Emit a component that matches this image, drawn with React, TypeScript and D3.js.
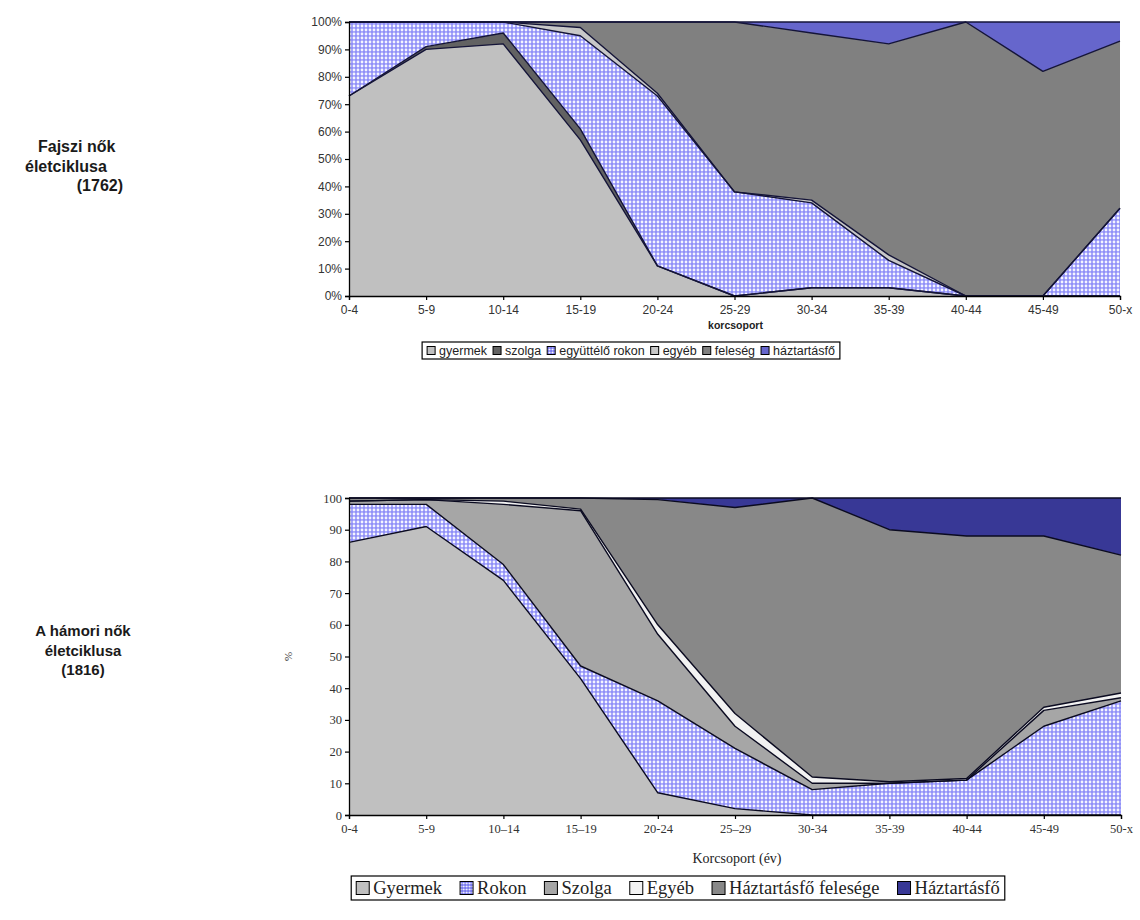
import { useEffect, useRef } from "react";
import * as d3 from "d3";

// age groups (korcsoport)
const ages = ["0-4", "5-9", "10-14", "15-19", "20-24", "25-29", "30-34", "35-39", "40-44", "45-49", "50-x"];
const agesBottom = ["0-4", "5-9", "10–14", "15–19", "20-24", "25–29", "30-34", "35-39", "40-44", "45-49", "50-x"];

// Fajsz 1762, percent of women per age group
const fajsziGyermek = [73, 90, 92, 57, 11, 0, 3, 3, 0, 0, 0];
const fajsziSzolga = [0, 1, 4, 4, 0, 0, 0, 0, 0, 0, 0];
const fajsziRokon = [27, 9, 4, 34, 62, 38, 31, 10, 0, 0, 32];
const fajsziEgyeb = [0, 0, 0, 3, 1, 0, 1, 2, 0, 0, 0];
const fajsziFeleseg = [0, 0, 0, 2, 26, 62, 61, 77, 100, 82, 61];
const fajsziHaztartasfo = [0, 0, 0, 0, 0, 0, 4, 8, 0, 18, 7];
const fajsziLabels = ["gyermek", "szolga", "együttélő rokon", "egyéb", "feleség", "háztartásfő"];

// Hámor 1816
const hamoriGyermek = [86, 91, 74, 43, 7, 2, 0, 0, 0, 0, 0];
const hamoriRokon = [12, 7, 5, 4, 29, 19, 8, 10, 11, 28, 36];
const hamoriSzolga = [1, 1.5, 19, 49, 21, 7, 2, 0, 0, 5, 1];
const hamoriEgyeb = [0, 0, 1, 0.5, 3, 4, 2, 0.5, 0.5, 1, 1.5];
const hamoriFeleseg = [1, 0.5, 1, 3.5, 39.5, 65, 88, 79.5, 76.5, 54, 43.5];
const hamoriHaztartasfo = [0, 0, 0, 0, 0.5, 3, 0, 10, 12, 12, 18];
const hamoriLabels = ["Gyermek", "Rokon", "Szolga", "Egyéb", "Háztartásfő felesége", "Háztartásfő"];

const yTicks = [0, 10, 20, 30, 40, 50, 60, 70, 80, 90, 100];

const SANS = "'Liberation Sans', Arial, sans-serif";
const SERIF = "'Liberation Serif', 'Times New Roman', serif";

type Row = { [k: string]: number | string };

function buildRows(cats: string[], keys: string[], series: number[][]): Row[] {
  return cats.map((c, i) => {
    const r: Row = { age: c };
    keys.forEach((k, j) => (r[k] = series[j][i]));
    return r;
  });
}

interface ChartOpts {
  cats: string[];
  keys: string[];
  series: number[][];
  fills: string[];
  x0: number;
  x1: number;
  yTop: number;
  yBottom: number;
  font: string;
  fontSize: number;
  tickFormat: (d: number) => string;
  lineColor: string;
}

function drawChart(svg: d3.Selection<SVGSVGElement, unknown, null, undefined>, o: ChartOpts) {
  const rows = buildRows(o.cats, o.keys, o.series);
  const x = d3.scalePoint<string>().domain(o.cats).range([o.x0, o.x1]);
  const y = d3.scaleLinear().domain([0, 100]).range([o.yBottom, o.yTop]);
  const stacked = d3.stack<Row>().keys(o.keys).value((d, k) => d[k] as number)(rows);

  const g = svg.append("g");
  const area = d3
    .area<d3.SeriesPoint<Row>>()
    .x((d) => x(d.data.age as string) as number)
    .y0((d) => y(d[0]))
    .y1((d) => y(d[1]));
  const line = d3
    .line<d3.SeriesPoint<Row>>()
    .x((d) => x(d.data.age as string) as number)
    .y((d) => y(d[1]));

  g.selectAll("path.area")
    .data(stacked)
    .join("path")
    .attr("class", "area")
    .attr("d", area)
    .attr("fill", (_, i) => o.fills[i]);

  g.selectAll("path.edge")
    .data(stacked)
    .join("path")
    .attr("class", "edge")
    .attr("d", line)
    .attr("fill", "none")
    .attr("stroke", o.lineColor)
    .attr("stroke-width", 1.4)
    .attr("stroke-linejoin", "round");

  const yAxis = svg
    .append("g")
    .attr("transform", `translate(${o.x0},0)`)
    .call(d3.axisLeft(y).tickValues(yTicks).tickSize(4).tickPadding(3).tickFormat((d) => o.tickFormat(d as number)));
  const xAxis = svg
    .append("g")
    .attr("transform", `translate(0,${o.yBottom})`)
    .call(d3.axisBottom(x).tickSize(4).tickPadding(5));
  [yAxis, xAxis].forEach((a) => {
    a.select(".domain").attr("stroke", "#000").attr("stroke-width", 1.3);
    a.selectAll(".tick line").attr("stroke", "#000").attr("stroke-width", 1.2);
    a.selectAll("text").attr("font-family", o.font).attr("font-size", o.fontSize).attr("fill", "#333");
  });
  return { x, y };
}

interface LegendItem {
  label: string;
  fill: string;
}

function drawLegend(
  svg: d3.Selection<SVGSVGElement, unknown, null, undefined>,
  items: LegendItem[],
  cx: number,
  top: number,
  font: string,
  size: number,
  sw: number,
  gap: number,
  h: number
) {
  const g = svg.append("g");
  const box = g.append("rect").attr("fill", "#fff").attr("stroke", "#000").attr("stroke-width", 1.2);
  let cur = 0;
  const pad = 5;
  items.forEach((it) => {
    g.append("rect")
      .attr("x", pad + cur)
      .attr("y", top + (h - sw) / 2)
      .attr("width", sw)
      .attr("height", sw)
      .attr("fill", it.fill)
      .attr("stroke", "#000")
      .attr("stroke-width", 1);
    const t = g
      .append("text")
      .attr("x", pad + cur + sw + 4)
      .attr("y", top + h / 2)
      .attr("dy", "0.35em")
      .attr("font-family", font)
      .attr("font-size", size)
      .attr("fill", "#222")
      .text(it.label);
    const w = (t.node() as SVGTextElement).getComputedTextLength();
    cur += sw + 4 + w + gap;
  });
  const total = cur - gap + pad * 2;
  box.attr("x", 0).attr("y", top).attr("width", total).attr("height", h);
  g.attr("transform", `translate(${cx - total / 2},0)`);
}

export default function App() {
  const ref = useRef<SVGSVGElement>(null);

  useEffect(() => {
    document.body.style.margin = "0";
    const svg = d3.select(ref.current as SVGSVGElement);
    svg.selectAll("*").remove();

    const defs = svg.append("defs");
    const pat = defs
      .append("pattern")
      .attr("id", "rokonPat")
      .attr("patternUnits", "userSpaceOnUse")
      .attr("width", 4)
      .attr("height", 4);
    pat.append("rect").attr("width", 4).attr("height", 4).attr("fill", "#9090f8");
    pat.append("circle").attr("cx", 2).attr("cy", 2).attr("r", 1.4).attr("fill", "#f4f4ff");

    const legendPat = defs
      .append("pattern")
      .attr("id", "rokonPatSmall")
      .attr("patternUnits", "userSpaceOnUse")
      .attr("width", 3)
      .attr("height", 3);
    legendPat.append("rect").attr("width", 3).attr("height", 3).attr("fill", "#7070ee");
    legendPat.append("circle").attr("cx", 1.5).attr("cy", 1.5).attr("r", 1).attr("fill", "#fff");

    // top chart
    const topFills = ["#c0c0c0", "#626262", "url(#rokonPat)", "#c8c8c8", "#808080", "#6666cc"];
    const top = drawChart(svg, {
      cats: ages,
      keys: fajsziLabels,
      series: [fajsziGyermek, fajsziSzolga, fajsziRokon, fajsziEgyeb, fajsziFeleseg, fajsziHaztartasfo],
      fills: topFills,
      x0: 349,
      x1: 1120,
      yTop: 22,
      yBottom: 296,
      font: SANS,
      fontSize: 12,
      tickFormat: (d) => `${d}%`,
      lineColor: "#141438",
    });
    svg
      .append("text")
      .attr("x", (top.x("25-29") as number) + 1)
      .attr("y", 329)
      .attr("text-anchor", "middle")
      .attr("font-family", SANS)
      .attr("font-size", 10.5)
      .attr("font-weight", "bold")
      .attr("fill", "#222")
      .text("korcsoport");
    drawLegend(
      svg,
      fajsziLabels.map((l, i) => ({ label: l, fill: i === 2 ? "url(#rokonPatSmall)" : topFills[i] })),
      631,
      342,
      SANS,
      12.5,
      8,
      6,
      17
    );

    // bottom chart
    const bottomFills = ["#c0c0c0", "url(#rokonPat)", "#a6a6a6", "#f2f2f2", "#888888", "#383896"];
    const bottom = drawChart(svg, {
      cats: agesBottom,
      keys: hamoriLabels,
      series: [hamoriGyermek, hamoriRokon, hamoriSzolga, hamoriEgyeb, hamoriFeleseg, hamoriHaztartasfo],
      fills: bottomFills,
      x0: 349,
      x1: 1121,
      yTop: 498,
      yBottom: 815,
      font: SERIF,
      fontSize: 12.5,
      tickFormat: (d) => `${d}`,
      lineColor: "#0a0a20",
    });
    svg
      .append("text")
      .attr("x", (bottom.x("25–29") as number) + 2)
      .attr("y", 863)
      .attr("text-anchor", "middle")
      .attr("font-family", SERIF)
      .attr("font-size", 14)
      .attr("fill", "#222")
      .text("Korcsoport (év)");
    svg
      .append("text")
      .attr("transform", `translate(292,${bottom.y(50)}) rotate(-90)`)
      .attr("text-anchor", "middle")
      .attr("font-family", SERIF)
      .attr("font-size", 11)
      .attr("fill", "#333")
      .text("%");
    drawLegend(
      svg,
      hamoriLabels.map((l, i) => ({ label: l, fill: i === 1 ? "url(#rokonPatSmall)" : bottomFills[i] })),
      678,
      876,
      SERIF,
      18.5,
      13,
      18,
      24
    );

    // side titles
    const side = (lines: { t: string; x: number; anchor: string }[], y0: number, size: number) => {
      lines.forEach((l, i) =>
        svg
          .append("text")
          .attr("x", l.x)
          .attr("y", y0 + i * 19.5)
          .attr("text-anchor", l.anchor)
          .attr("font-family", SANS)
          .attr("font-size", size)
          .attr("font-weight", "bold")
          .attr("fill", "#1a1a1a")
          .text(l.t)
      );
    };
    side(
      [
        { t: "Fajszi nők", x: 38, anchor: "start" },
        { t: "életciklusa", x: 25, anchor: "start" },
        { t: "(1762)", x: 123, anchor: "end" },
      ],
      152,
      16
    );
    side(
      [
        { t: "A hámori nők", x: 83, anchor: "middle" },
        { t: "életciklusa", x: 83, anchor: "middle" },
        { t: "(1816)", x: 83, anchor: "middle" },
      ],
      636,
      15
    );
  }, []);

  return <svg ref={ref} width={1140} height={920} style={{ display: "block", background: "#fff" }} />;
}
